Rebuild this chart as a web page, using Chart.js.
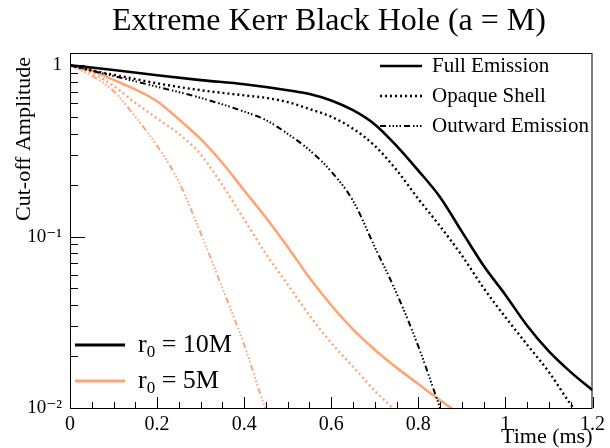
<!DOCTYPE html>
<html><head><meta charset="utf-8">
<script src="https://cdn.jsdelivr.net/npm/chart.js@4/dist/chart.umd.min.js"></script>
<style>html,body{margin:0;padding:0;background:#fff}</style>
</head><body><canvas id="c" width="610" height="448"></canvas>
<script>
// ---- data ----
const xTickValues = [0, 0.2, 0.4, 0.6, 0.8, 1, 1.2];
const xTickLabels = ['0', '0.2', '0.4', '0.6', '0.8', '1', '1.2'];
const yTickValues = [0.01, 0.1, 1];
const yTickLabels = ['10\u207B\u00B2', '10\u207B\u00B9', '1'];

const r10FullX = [0, 0.1, 0.2, 0.3, 0.4, 0.5, 0.55, 0.6, 0.65, 0.7, 0.75, 0.8, 0.85, 0.9, 0.95, 1.0, 1.05, 1.1, 1.15, 1.2];
const r10FullY = [1, 0.94, 0.875, 0.82, 0.776, 0.716, 0.68, 0.624, 0.547, 0.452, 0.339, 0.243, 0.17, 0.107, 0.0676, 0.0457, 0.0302, 0.0214, 0.0162, 0.0127];

const r10OpaqueX = [0, 0.05, 0.1, 0.2, 0.3, 0.4, 0.45, 0.5, 0.55, 0.6, 0.65, 0.7, 0.75, 0.8, 0.85, 0.9, 0.95, 1.0, 1.05, 1.1, 1.15, 1.17];
const r10OpaqueY = [1, 0.933, 0.881, 0.785, 0.716, 0.668, 0.646, 0.61, 0.556, 0.501, 0.427, 0.339, 0.245, 0.166, 0.115, 0.0776, 0.0501, 0.0339, 0.0234, 0.0162, 0.0105, 0.0091];

const r10OutX = [0, 0.1, 0.2, 0.3, 0.4, 0.45, 0.5, 0.55, 0.6, 0.65, 0.7, 0.75, 0.8, 0.85, 0.86];
const r10OutY = [1, 0.867, 0.75, 0.646, 0.537, 0.479, 0.398, 0.32, 0.24, 0.162, 0.087, 0.0468, 0.0229, 0.01, 0.0085];

const r5FullX = [0, 0.05, 0.1, 0.15, 0.2, 0.25, 0.3, 0.35, 0.4, 0.45, 0.5, 0.55, 0.6, 0.65, 0.7, 0.75, 0.8, 0.85, 0.88];
const r5FullY = [1, 0.933, 0.822, 0.724, 0.617, 0.484, 0.372, 0.269, 0.186, 0.129, 0.0871, 0.0575, 0.0398, 0.0288, 0.0219, 0.0172, 0.0138, 0.0111, 0.0098];

const r5OpaqueX = [0, 0.05, 0.1, 0.15, 0.2, 0.25, 0.3, 0.35, 0.4, 0.45, 0.5, 0.55, 0.6, 0.65, 0.7, 0.74, 0.75];
const r5OpaqueY = [1, 0.902, 0.759, 0.603, 0.49, 0.398, 0.302, 0.2, 0.126, 0.0794, 0.0525, 0.0347, 0.024, 0.0174, 0.0126, 0.01, 0.0093];

const r5OutX = [0, 0.05, 0.1, 0.15, 0.2, 0.25, 0.3, 0.35, 0.4, 0.45, 0.46];
const r5OutY = [1, 0.871, 0.708, 0.501, 0.339, 0.209, 0.105, 0.0501, 0.0234, 0.0098, 0.0087];

// ---- styles ----
const BLACK = '#000000';
const ORANGE = 'rgb(255,164,116)';
const DOT = [2, 3];
const DASHDOT = [6, 3, 1.5, 2, 1.5, 2, 1.5, 2, 1.5, 3];
const SERIF = '"Liberation Serif", "DejaVu Serif", serif';

function pts(xs, ys) { return xs.map((x, i) => ({ x: x, y: ys[i] })); }
function ds(label, xs, ys, color, width, dash) {
  return {
    label: label, data: pts(xs, ys), borderColor: color, backgroundColor: color,
    borderWidth: width, borderDash: dash, pointRadius: 0, fill: false,
    cubicInterpolationMode: 'monotone'
  };
}

const datasets = [
  ds('r0=10M Full Emission', r10FullX, r10FullY, BLACK, 2.6, []),
  ds('r0=10M Opaque Shell', r10OpaqueX, r10OpaqueY, BLACK, 2.4, DOT),
  ds('r0=10M Outward Emission', r10OutX, r10OutY, BLACK, 2, DASHDOT),
  ds('r0=5M Full Emission', r5FullX, r5FullY, ORANGE, 2.6, []),
  ds('r0=5M Opaque Shell', r5OpaqueX, r5OpaqueY, ORANGE, 2.4, DOT),
  ds('r0=5M Outward Emission', r5OutX, r5OutY, ORANGE, 2, DASHDOT)
];

const decor = {
  id: 'decor',
  afterDraw(chart) {
    const ctx = chart.ctx, a = chart.chartArea;
    const xs = chart.scales.x, ys = chart.scales.y;
    ctx.save();
    // frame
    ctx.strokeStyle = '#000'; ctx.lineWidth = 1;
    ctx.strokeRect(a.left + 0.5, a.top + 0.5, a.right - a.left - 1, a.bottom - a.top);
    // x ticks (inward)
    ctx.beginPath();
    for (let k = 0; k <= 24; k++) {
      const v = k * 0.05;
      const px = Math.round(xs.getPixelForValue(v)) + 0.5;
      const len = (k % 4 === 0) ? 11 : 6;
      ctx.moveTo(px, a.bottom); ctx.lineTo(px, a.bottom - len);
    }
    // y ticks (inward)
    [0.01, 0.1, 1].forEach(d => {
      for (let m = 1; m <= 9; m++) {
        const v = d * m;
        if (v > ys.max) break;
        const py = Math.round(ys.getPixelForValue(v)) + 0.5;
        const len = m === 1 ? 15 : 8;
        ctx.moveTo(a.left, py); ctx.lineTo(a.left + len, py);
      }
    });
    ctx.stroke();

    // title
    ctx.fillStyle = '#000';
    ctx.textBaseline = 'middle';
    ctx.textAlign = 'center';
    ctx.font = '32px ' + SERIF;
    ctx.fillText('Extreme Kerr Black Hole (a = M)', 329, 22);
    // axis titles
    ctx.font = '22px ' + SERIF;
    ctx.textAlign = 'right';
    ctx.fillText('Time (ms)', a.right, 437);
    ctx.save();
    ctx.translate(24, a.top + 4);
    ctx.rotate(-Math.PI / 2);
    ctx.textAlign = 'right';
    ctx.font = '22px ' + SERIF;
    ctx.fillText('Cut-off Amplitude', 0, 0);
    ctx.restore();

    // top-right legend
    const leg1 = [['Full Emission', []], ['Opaque Shell', DOT], ['Outward Emission', DASHDOT]];
    ctx.font = '21px ' + SERIF;
    ctx.textAlign = 'left';
    leg1.forEach((e, i) => {
      const y = 66 + i * 30;
      ctx.beginPath();
      ctx.setLineDash(e[1]);
      ctx.lineWidth = i === 2 ? 2 : 2.4;
      ctx.strokeStyle = '#000';
      ctx.moveTo(380, y); ctx.lineTo(422, y);
      ctx.stroke();
      ctx.setLineDash([]);
      ctx.fillText(e[0], 432, y);
    });

    // bottom-left legend
    const leg2 = [['10M', BLACK], ['5M', ORANGE]];
    leg2.forEach((e, i) => {
      const y = 345 + i * 36;
      ctx.beginPath();
      ctx.lineWidth = 3;
      ctx.strokeStyle = e[1];
      ctx.moveTo(75, y); ctx.lineTo(125, y);
      ctx.stroke();
      ctx.fillStyle = '#000';
      ctx.font = '26px ' + SERIF;
      ctx.fillText('r', 138, y);
      const w = ctx.measureText('r').width;
      ctx.font = '17px ' + SERIF;
      ctx.fillText('0', 138 + w, y + 8);
      const w2 = ctx.measureText('0').width;
      ctx.font = '26px ' + SERIF;
      ctx.fillText(' = ' + e[0], 138 + w + w2, y);
    });
    ctx.restore();
  }
};

new Chart(document.getElementById('c'), {
  type: 'line',
  data: { datasets: datasets },
  options: {
    responsive: false, animation: false, devicePixelRatio: 1,
    layout: { padding: { top: 53, right: 17, left: 0, bottom: 0 } },
    plugins: { legend: { display: false }, tooltip: { enabled: false }, title: { display: false } },
    scales: {
      x: {
        type: 'linear', min: 0, max: 1.2,
        afterBuildTicks: s => { s.ticks = xTickValues.map(v => ({ value: v })); },
        afterFit: s => { s.height = 40; },
        ticks: {
          autoSkip: false, maxRotation: 0, padding: 5, color: '#000',
          font: { family: SERIF, size: 20 },
          callback: (v) => { const i = xTickValues.indexOf(v); return i >= 0 ? xTickLabels[i] : ''; }
        },
        grid: { display: false, drawTicks: false },
        border: { display: false }
      },
      y: {
        type: 'logarithmic', min: 0.01, max: 1.18,
        afterBuildTicks: s => { s.ticks = yTickValues.map(v => ({ value: v })); },
        afterFit: s => { s.width = 70; },
        ticks: {
          autoSkip: false, padding: 8, color: '#000',
          font: { family: SERIF, size: 19 },
          callback: (v) => { const i = yTickValues.findIndex(t => Math.abs(t - v) < 1e-9); return i >= 0 ? yTickLabels[i] : ''; }
        },
        grid: { display: false, drawTicks: false },
        border: { display: false }
      }
    }
  },
  plugins: [decor]
});
</script>
</body></html>
